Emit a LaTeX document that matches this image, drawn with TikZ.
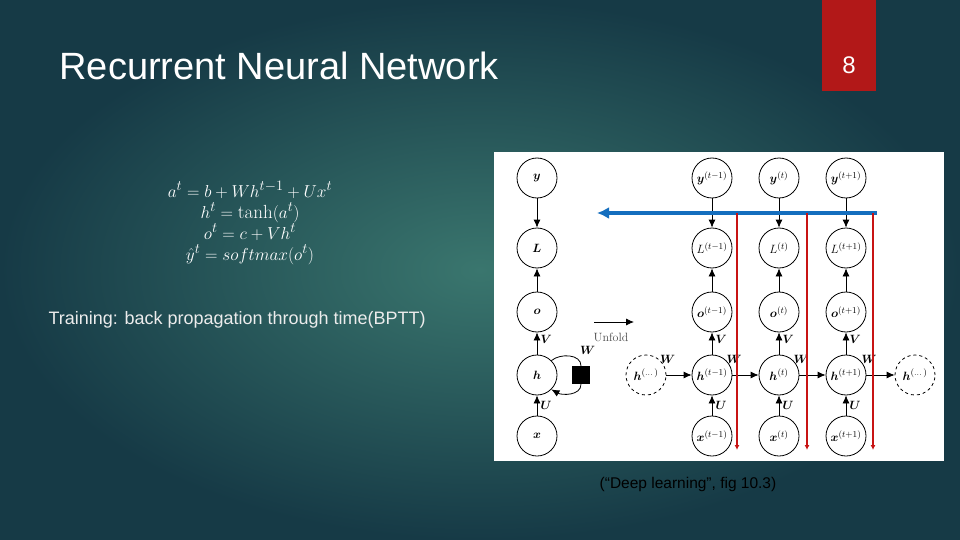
\documentclass[tikz,border=0pt]{standalone}
\usepackage{amsmath,amssymb}
\usepackage{fontspec}
\setsansfont{Liberation Sans}
\usetikzlibrary{arrows.meta}
\definecolor{bgdark}{RGB}{22,58,70}
\definecolor{bglight}{RGB}{58,118,110}
\definecolor{tabred}{RGB}{178,24,24}
\definecolor{bpblue}{RGB}{20,110,190}
\definecolor{bpred}{RGB}{200,20,20}
\begin{document}
\begin{tikzpicture}[x=1pt,y=-1pt,
  nd/.style={circle,draw,thick,minimum size=40pt,inner sep=0pt,font=\fontsize{13}{15}\selectfont},
  dn/.style={nd,dashed},
  ar/.style={-{Latex[length=8pt,width=7pt]},thick},
  lb/.style={font=\fontsize{13}{15}\selectfont},
  wl/.style={lb,above left,yshift=8pt}]
\useasboundingbox (0,0) rectangle (960,540);
\shade[inner color=bglight,outer color=bgdark] (0,0) rectangle (960,540);
\fill[tabred] (822,0) rectangle (876,91);
\node[white,font=\sffamily\fontsize{24}{28}\selectfont] (pg) at (849,65) {8};
\node[anchor=west,white,font=\sffamily\fontsize{38}{42}\selectfont] (title) at (56,66) {Recurrent Neural Network};
\node[white,font=\fontsize{19}{21}\selectfont,align=center] (eq) at (250,223) {%
$a^t = b + Wh^{t-1} + Ux^t$\\
$h^t = \tanh(a^t)$\\
$o^t = c + Vh^t$\\
$\hat{y}^t = softmax(o^t)$};
\node[anchor=west,white!85!gray,font=\sffamily\fontsize{18}{21}\selectfont] (train) at (45,320) {Training: back propagation through time(BPTT)};
\fill[white] (494,152) rectangle (944,461);
\node[font=\sffamily\fontsize{15.5}{18}\selectfont] (cap) at (688,484) {(“Deep learning”, fig 10.3)};
% folded
\node[nd] (y) at (537,178) {$\boldsymbol{y}$};
\node[nd] (L) at (537,248) {$\boldsymbol{L}$};
\node[nd] (o) at (537,312) {$\boldsymbol{o}$};
\node[nd] (h) at (537,375) {$\boldsymbol{h}$};
\node[nd] (x) at (537,436) {$\boldsymbol{x}$};
\node[fill=black,minimum size=18pt,inner sep=0pt] (sq) at (581,375) {};
\draw[ar] (y)--(L);
\draw[ar] (o)--(L);
\draw[ar] (h)--node[lb,right,pos=0.7]{$\boldsymbol{V}$}(o);
\draw[ar] (x)--node[lb,right]{$\boldsymbol{U}$}(h);
\draw[thick] (h.north east) to[out=40,in=90] node[lb,above right,pos=0.7]{$\boldsymbol{W}$}(sq.north);
\draw[ar] (sq.south) to[out=-90,in=-30] (h.south east);
% unfold arrow
\coordinate (u1) at (594,322); \coordinate (u2) at (634,322);
\draw[ar] (u1)--(u2);
\node[font=\fontsize{12}{14}\selectfont,gray!60!black] (unf) at (611,337) {Unfold};
% unfolded
\foreach \n/\xx/\s in {a/712/t-1,b/779/t,c/846/t+1}{
  \node[nd] (y\n) at (\xx,178) {$\boldsymbol{y}^{(\s)}$};
  \node[nd] (L\n) at (\xx,248) {$L^{(\s)}$};
  \node[nd] (o\n) at (\xx,312) {$\boldsymbol{o}^{(\s)}$};
  \node[nd] (h\n) at (\xx,375) {$\boldsymbol{h}^{(\s)}$};
  \node[nd] (x\n) at (\xx,436) {$\boldsymbol{x}^{(\s)}$};
  \draw[ar] (y\n)--(L\n);
  \draw[ar] (o\n)--(L\n);
  \draw[ar] (h\n)--node[lb,right,pos=0.7]{$\boldsymbol{V}$}(o\n);
  \draw[ar] (x\n)--node[lb,right]{$\boldsymbol{U}$}(h\n);
}
\node[dn] (hl) at (646,375) {$\boldsymbol{h}^{(\dots)}$};
\node[dn] (hr) at (915,375) {$\boldsymbol{h}^{(\dots)}$};
\draw[ar] (hl)--node[wl]{$\boldsymbol{W}$}(ha);
\draw[ar] (ha)--node[wl]{$\boldsymbol{W}$}(hb);
\draw[ar] (hb)--node[wl]{$\boldsymbol{W}$}(hc);
\draw[ar] (hc)--node[wl]{$\boldsymbol{W}$}(hr);
% BPTT arrows
\coordinate (bs) at (877,213); \coordinate (be) at (597,213);
\draw[bpblue,line width=4pt,-{Latex[length=12pt,width=12pt]}] (bs)--(be);
\foreach \xx/\k in {737/1,807/2,873/3}{
  \coordinate (rs\k) at (\xx,213); \coordinate (re\k) at (\xx,450);
  \draw[bpred,line width=1.6pt,-{Latex[length=5pt,width=5pt]}] (rs\k)--(re\k);
}
\end{tikzpicture}
\end{document}
